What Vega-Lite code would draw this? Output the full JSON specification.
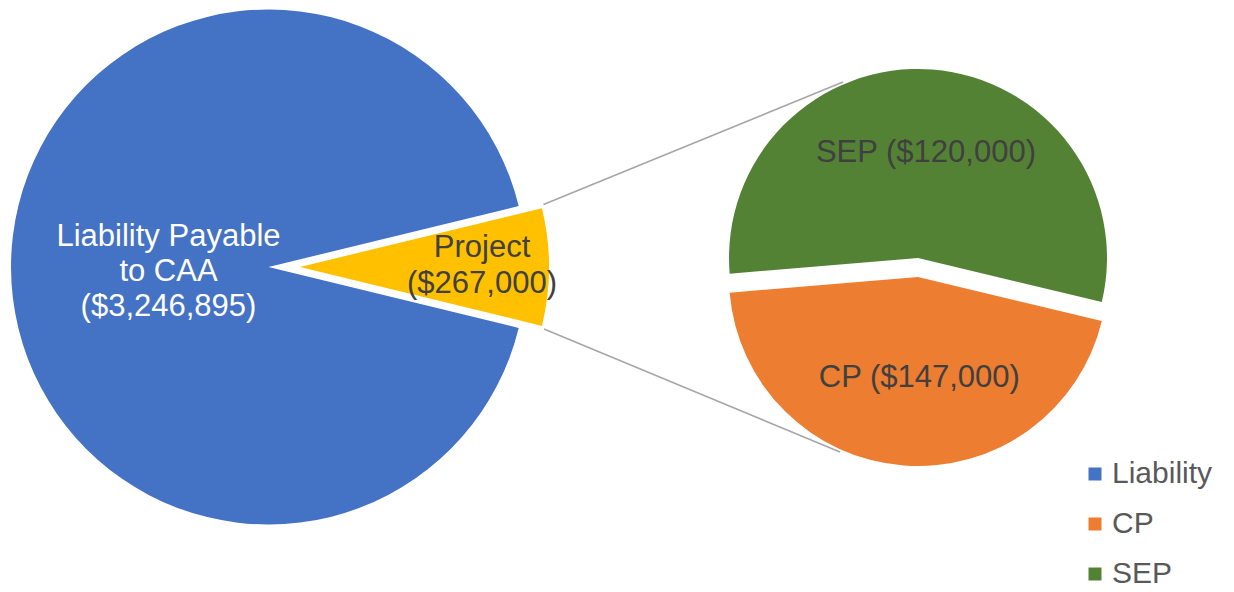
{
  "$schema": "https://vega.github.io/schema/vega-lite/v6.json",
  "width": 1234,
  "height": 534,
  "autosize": "none",
  "padding": {"left": 0, "top": 0, "right": 0, "bottom": 58},
  "background": "white",
  "config": {"view": {"stroke": null}, "font": "Liberation Sans"},
  "datasets": {
    "main": [
      {"part": "Liability", "amount": 3246895, "label": "Liability Payable\nto CAA\n($3,246,895)"},
      {"part": "Project", "amount": 267000, "label": "Project\n($267,000)"}
    ],
    "detail": [
      {"part": "CP", "slice": 120000, "label": "CP ($147,000)"},
      {"part": "SEP", "slice": 147000, "label": "SEP ($120,000)"}
    ]
  },
  "layer": [
    {
      "data": {"name": "main"},
      "mark": {"type": "arc", "radius": 257.5},
      "encoding": {
        "x": {"datum": 0, "type": "quantitative", "scale": {"domain": [0, 1], "range": [268.5, 918], "nice": false, "zero": false}, "axis": null},
        "theta": {"field": "amount", "type": "quantitative", "stack": true, "scale": {"range": [1.33209, 7.61528]}},
        "order": {"field": "amount", "sort": "ascending"},
        "color": {
          "field": "part", "type": "nominal",
          "scale": {"domain": ["Liability", "Project", "CP", "SEP"], "range": ["#4472C4", "#FFC000", "#ED7D31", "#548235"]},
          "legend": {"title": null, "orient": "none", "legendX": 1080, "legendY": 459, "values": ["Liability", "CP", "SEP"], "symbolType": "square", "symbolSize": 169, "symbolStrokeWidth": 0, "labelFontSize": 30, "labelColor": "#595959", "labelFont": "Liberation Sans", "rowPadding": 20, "labelOffset": 2}
        },
        "opacity": {"condition": {"test": "datum.part === 'Liability'", "value": 1}, "value": 0}
      }
    },
    {
      "data": {"name": "main"},
      "mark": {"type": "arc", "radius": 249, "xOffset": 31.5},
      "encoding": {
        "x": {"datum": 0, "type": "quantitative"},
        "theta": {"field": "amount", "type": "quantitative", "stack": true, "scale": {"range": [1.33209, 7.61528]}},
        "order": {"field": "amount", "sort": "ascending"},
        "color": {"field": "part", "type": "nominal"},
        "opacity": {"condition": {"test": "datum.part === 'Project'", "value": 1}, "value": 0}
      }
    },
    {
      "data": {"name": "detail"},
      "mark": {"type": "arc", "radius": 189, "yOffset": -9},
      "encoding": {
        "x": {"datum": 1, "type": "quantitative"},
        "theta": {"field": "slice", "type": "quantitative", "stack": true, "scale": {"range": [1.80554, 8.08873]}},
        "order": {"field": "slice", "sort": "ascending"},
        "color": {"field": "part", "type": "nominal"},
        "opacity": {"condition": {"test": "datum.part === 'SEP'", "value": 1}, "value": 0}
      }
    },
    {
      "data": {"name": "detail"},
      "mark": {"type": "arc", "radius": 189, "yOffset": 10},
      "encoding": {
        "x": {"datum": 1, "type": "quantitative"},
        "theta": {"field": "slice", "type": "quantitative", "stack": true, "scale": {"range": [1.80554, 8.08873]}},
        "order": {"field": "slice", "sort": "ascending"},
        "color": {"field": "part", "type": "nominal"},
        "opacity": {"condition": {"test": "datum.part === 'CP'", "value": 1}, "value": 0}
      }
    },
    {
      "data": {"values": [{"connector": "upper"}]},
      "mark": {"type": "rule", "color": "#A6A6A6", "strokeWidth": 1.5, "xOffset": 275, "x2Offset": -75},
      "encoding": {
        "x": {"datum": 0, "type": "quantitative"},
        "x2": {"datum": 1},
        "y": {"datum": 0.2427, "type": "quantitative", "scale": {"domain": [-1, 1], "range": [524.5, 9.5], "nice": false, "zero": false}, "axis": null},
        "y2": {"datum": 0.7184}
      }
    },
    {
      "data": {"values": [{"connector": "lower"}]},
      "mark": {"type": "rule", "color": "#A6A6A6", "strokeWidth": 1.5, "xOffset": 275.5, "x2Offset": -78},
      "encoding": {
        "x": {"datum": 0, "type": "quantitative"},
        "x2": {"datum": 1},
        "y": {"datum": -0.2408, "type": "quantitative"},
        "y2": {"datum": -0.7184}
      }
    },
    {
      "data": {"name": "main"},
      "mark": {"type": "text", "radius": 100, "fontSize": 31, "font": "Liberation Sans", "color": "white", "lineBreak": "\n", "lineHeight": 35, "align": "center", "baseline": "middle", "yOffset": -30},
      "encoding": {
        "x": {"datum": 0, "type": "quantitative"},
        "theta": {"field": "amount", "type": "quantitative", "stack": true, "scale": {"range": [1.33209, 7.61528]}},
        "order": {"field": "amount", "sort": "ascending"},
        "text": {"condition": {"test": "datum.part === 'Liability'", "field": "label"}, "value": ""}
      }
    },
    {
      "data": {"name": "main"},
      "mark": {"type": "text", "radius": 182, "fontSize": 31, "font": "Liberation Sans", "color": "#404040", "lineBreak": "\n", "lineHeight": 36, "align": "center", "baseline": "middle", "xOffset": 31.5, "yOffset": -19},
      "encoding": {
        "x": {"datum": 0, "type": "quantitative"},
        "theta": {"field": "amount", "type": "quantitative", "stack": true, "scale": {"range": [1.33209, 7.61528]}},
        "order": {"field": "amount", "sort": "ascending"},
        "text": {"condition": {"test": "datum.part === 'Project'", "field": "label"}, "value": ""}
      }
    },
    {
      "data": {"name": "detail"},
      "mark": {"type": "text", "radius": 105, "fontSize": 31, "font": "Liberation Sans", "color": "#404040", "align": "center", "baseline": "middle", "yOffset": -9},
      "encoding": {
        "x": {"datum": 1, "type": "quantitative"},
        "theta": {"field": "slice", "type": "quantitative", "stack": true, "scale": {"range": [1.80554, 8.08873]}},
        "order": {"field": "slice", "sort": "ascending"},
        "text": {"condition": {"test": "datum.part === 'SEP'", "field": "label"}, "value": ""}
      }
    },
    {
      "data": {"name": "detail"},
      "mark": {"type": "text", "radius": 101, "fontSize": 31, "font": "Liberation Sans", "color": "#404040", "align": "center", "baseline": "middle", "yOffset": 10, "xOffset": 9},
      "encoding": {
        "x": {"datum": 1, "type": "quantitative"},
        "theta": {"field": "slice", "type": "quantitative", "stack": true, "scale": {"range": [1.80554, 8.08873]}},
        "order": {"field": "slice", "sort": "ascending"},
        "text": {"condition": {"test": "datum.part === 'CP'", "field": "label"}, "value": ""}
      }
    }
  ],
  "resolve": {"scale": {"theta": "independent"}}
}
